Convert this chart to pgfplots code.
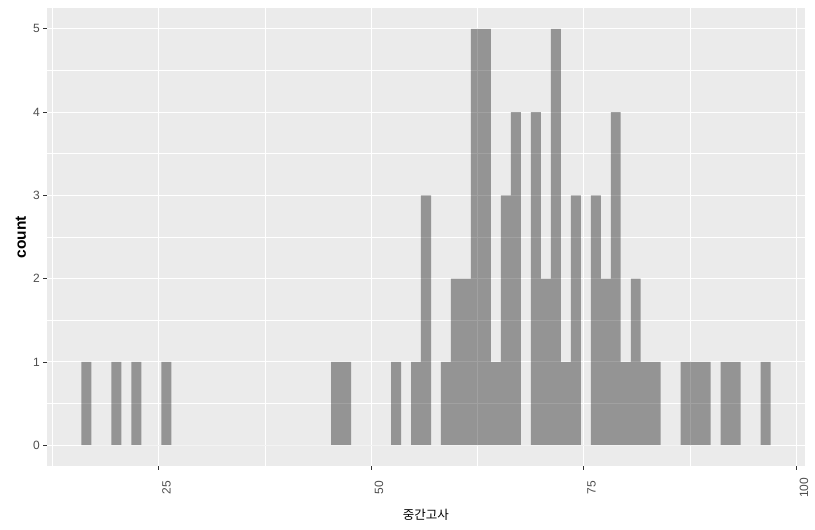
\documentclass[border=0pt]{standalone}
\usepackage{pgfplots}
\pgfplotsset{compat=1.18}
\usepackage{fontspec}
\setmainfont{Liberation Sans}
\newfontfamily\kr{Noto Sans CJK KR}
\definecolor{panelbg}{HTML}{EBEBEB}
\definecolor{ticktext}{HTML}{4D4D4D}
\definecolor{tickcol}{HTML}{333333}
\begin{document}
\begin{tikzpicture}
\path[use as bounding box] (0,0) rectangle (815pt,530pt);
\begin{axis}[
  at={(47pt,64pt)}, anchor=south west,
  scale only axis, width=758pt, height=458pt,
  xmin=11.85, xmax=101.03, ymin=-0.25, ymax=5.25,
  axis background/.style={fill=panelbg},
  axis line style={draw=none},
  xtick pos=bottom, ytick pos=left,
  xtick={25,50,75,100}, ytick={0,1,2,3,4,5},
  minor xtick={12.5,37.5,62.5,87.5},
  minor ytick={0.5,1.5,2.5,3.5,4.5},
  grid=both,
  major grid style={white, line width=1.1pt},
  minor grid style={white, line width=0.55pt},
  tick align=outside,
  major tick length=3.7pt, minor tick length=0pt,
  tick style={color=tickcol, line width=0.75pt},
  /pgf/number format/assume math mode=true,
  tick label style={font=\fontsize{12}{12}\selectfont, color=ticktext},
  xticklabel style={rotate=90, anchor=north},
  xticklabel shift={18pt},
  xlabel={{\kr 중간고사}},
  ylabel={\textbf{count}},
  every axis x label/.style={at={(axis description cs:0.5,0)}, anchor=center, yshift=-49pt, font=\fontsize{12.5}{12.5}\selectfont, color=black},
  every axis y label/.style={at={(axis description cs:-0.0343,0.5)}, rotate=90, anchor=center, font=\fontsize{15.5}{15.5}\selectfont, color=black},
]
\addplot[ybar interval, fill=black, fill opacity=0.37, draw=none] table {
x y
15.90 1
17.08 0
18.25 0
19.43 1
20.60 0
21.78 1
22.95 0
24.13 0
25.30 1
26.48 0
27.65 0
28.83 0
30.00 0
31.18 0
32.35 0
33.53 0
34.70 0
35.88 0
37.05 0
38.23 0
39.40 0
40.58 0
41.75 0
42.93 0
44.10 0
45.28 1
46.45 1
47.63 0
48.80 0
49.98 0
51.15 0
52.33 1
53.50 0
54.68 1
55.85 3
57.03 0
58.20 1
59.38 2
60.55 2
61.73 5
62.90 5
64.08 1
65.25 3
66.43 4
67.60 0
68.78 4
69.95 2
71.13 5
72.30 1
73.48 3
74.65 0
75.83 3
77.00 2
78.18 4
79.35 1
80.53 2
81.70 1
82.88 1
84.05 0
85.23 0
86.40 1
87.58 1
88.75 1
89.93 0
91.10 1
92.28 1
93.45 0
94.63 0
95.80 1
96.98 0
};
\end{axis}
\end{tikzpicture}
\end{document}
